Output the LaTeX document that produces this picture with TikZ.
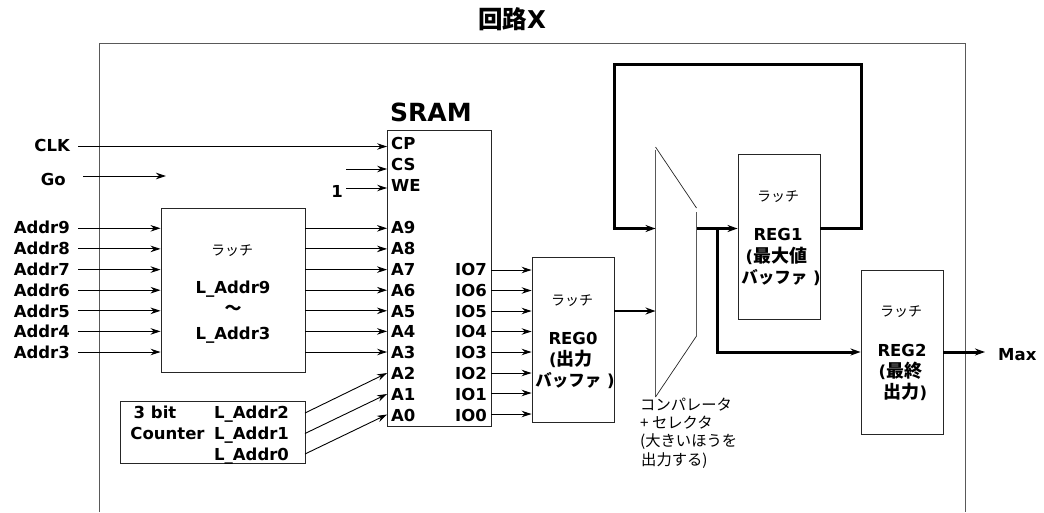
\documentclass[tikz,border=0pt]{standalone}
\usepackage{fontspec}
\setmainfont{DejaVu Sans}
\newfontfamily\jp{Noto Sans CJK JP}
\usetikzlibrary{arrows.meta,calc}
\definecolor{edgegray}{gray}{0.35}
\tikzset{
  x=1pt,y=-1pt,
  box/.style={draw=black!85,line width=0.9pt,inner sep=0pt,rectangle},
  wire/.style={line width=0.9pt,black,-{Stealth[length=10pt,width=6.5pt]}},
  thickwire/.style={line width=2.2pt,black,line join=miter,-{Stealth[length=10pt,width=7pt]}},
  plainthick/.style={line width=2.2pt,black},
  bendwire/.style={line width=3pt,black,line join=miter,-{Stealth[length=10pt,width=7pt]}},
  loopwire/.style={line width=3.4pt,black,line join=miter,line cap=butt},
  txt/.style={font=\fontsize{16.5}{17}\selectfont\bfseries,inner sep=0pt},
  sig/.style={txt,anchor=base east,inner xsep=8pt},
  pinl/.style={txt,anchor=base west},
  pinr/.style={txt,anchor=base east},
  mid/.style={txt,anchor=base},
  latchtxt/.style={font=\fontsize{14}{14}\selectfont\jp,inner sep=0pt},
  cmptxt/.style={font=\fontsize{15.3}{16}\selectfont\jp,inner sep=0pt,anchor=west},
  outer/.style={draw=edgegray,line width=1pt},
  cmpedge/.style={draw=edgegray,line width=1.2pt},
  cmpslant/.style={draw=black!85,line width=0.7pt}
}
\newcommand{\jb}[1]{{\fontsize{18}{18}\selectfont\jp\bfseries #1}}
\newcommand{\jk}[1]{{\jp\bfseries #1}}
\begin{document}
\begin{tikzpicture}
\useasboundingbox (0,0) rectangle (1044,512);
% outer frame
\coordinate (fbl) at (99,512);
\coordinate (ftl) at (99,43.5);
\coordinate (ftr) at (965,43.5);
\coordinate (fbr) at (965,512);
\draw[outer] (fbl) -- (ftl) -- (ftr) -- (fbr);
\node[font=\fontsize{24.5}{26}\selectfont\jp\bfseries,inner sep=0pt] (title) at (512,19) {回路{\fontspec{DejaVu Sans}\bfseries X}};
% boxes
\node[box,minimum width=103.5pt,minimum height=296pt] (sram) at (439.25,278) {};
\node[box,minimum width=144pt,minimum height=164pt] (latch) at (233,290) {};
\node[box,minimum width=185pt,minimum height=61.5pt] (counter) at (212.5,432.25) {};
\node[box,minimum width=82pt,minimum height=165pt] (reg0) at (573,339.5) {};
\node[box,minimum width=82pt,minimum height=164.5pt] (reg1) at (779,236.75) {};
\node[box,minimum width=82pt,minimum height=164pt] (reg2) at (902,352) {};
% SRAM texts
\node[txt,anchor=base west,font=\fontsize{25}{26}\selectfont\bfseries] (sramtitle) at (390,121) {SRAM};
\node[pinl] (cp) at (391,149) {CP};
\node[pinl] (cs) at (391,170) {CS};
\node[pinl] (we) at (391,191) {WE};
\foreach \n/\b in {9/233,8/254,7/275,6/296,5/317,4/337,3/358,2/379,1/400,0/421}
  \node[pinl] (a\n) at (391,\b) {A\n};
\foreach \n/\b in {7/275,6/296,5/317,4/337,3/358,2/379,1/400,0/421}
  \node[pinr] (io\n) at (487,\b) {IO\n};
% signal labels
\node[sig] (clk) at (78,151) {CLK};
\node[sig,inner xsep=17pt] (go) at (83,185) {Go};
\node[txt,anchor=base] (one) at (337,197.5) {1};
\coordinate (csfrom) at (346,169);
\coordinate (wefrom) at (346,188);
\coordinate (goto) at (166,176);
\foreach \n/\r/\b in {9/228.3/233,8/248.9/254,7/269.6/275,6/290.2/296,5/310.8/317,4/331.4/337,3/352/358}{
  \node[sig] (addr\n) at (78,\b) {Addr\n};
  \coordinate (row\n) at (0,\r);
  \draw[wire] (addr\n.east |- row\n) -- (latch.west |- row\n);
  \draw[wire] (latch.east |- row\n) -- (sram.west |- row\n);
}
\draw[wire] (clk.east |- 0,146.5) -- (sram.west |- 0,146.5);
\draw[wire] (go.east |- goto) -- (goto);
\draw[wire] (csfrom) -- (sram.west |- csfrom);
\draw[wire] (wefrom) -- (sram.west |- wefrom);
% latch texts
\node[latchtxt] (latchl) at (232,251) {ラッチ};
\node[mid] (la) at (233,293) {L\_Addr9};
\node[latchtxt,font=\fontsize{17}{17}\selectfont\jp\bfseries] (lb) at (233,310) {〜};
\node[mid] (lc) at (233,339) {L\_Addr3};
% counter
\node[txt,anchor=base] (c1) at (155,418) {3 bit};
\node[txt,anchor=base] (c2) at (167.5,439) {Counter};
\node[pinl] (l2) at (214,418) {L\_Addr2};
\node[pinl] (l1) at (214,439) {L\_Addr1};
\node[pinl] (l0) at (214,460) {L\_Addr0};
\coordinate (cnt2) at (305,413);
\coordinate (cnt1) at (305,433.5);
\coordinate (cnt0) at (305,454);
\draw[wire] (cnt2) -- (sram.west |- 0,373);
\draw[wire] (cnt1) -- (sram.west |- 0,394);
\draw[wire] (cnt0) -- (sram.west |- 0,414.5);
% IO arrows
\foreach \n/\r in {7/270,6/290.5,5/311,4/331.5,3/352,2/373,1/393,0/414}
  \draw[wire] (sram.east |- 0,\r) -- (reg0.west |- 0,\r);
% reg0 texts
\node[latchtxt] (r0l) at (572,301) {ラッチ};
\node[mid] (r0a) at (573,344) {REG0};
\node[mid] (r0b) at (571,365) {(\jb{出力}};
\node[mid] (r0c) at (575,386) {\jk{バッファ} )};
% comparator
\coordinate (ctl) at (655.5,147);
\coordinate (ctls) at (655.5,150);
\coordinate (ctr) at (696.5,208);
\coordinate (ctrs) at (696.5,212);
\coordinate (cbr) at (696.5,336);
\coordinate (cbl) at (655.5,397);
\draw[cmpedge] (ctls) -- (cbl);
\draw[cmpedge] (ctrs) -- (cbr);
\draw[cmpslant] (ctl) -- (ctr);
\draw[cmpslant] (cbr) -- (cbl);
\node[cmptxt] (ct1) at (640,405) {コンパレータ};
\node[cmptxt] (ct2) at (640,423) {+ セレクタ};
\node[cmptxt] (ct3) at (640,442) {(大きいほうを};
\node[cmptxt] (ct4) at (641,461) {出力する)};
% reg0 to comparator
\draw[thickwire] (reg0.east |- 0,311) -- (ctl |- 0,311);
% feedback
\coordinate (fbA) at (861.5,228.5);
\coordinate (fbB) at (861.5,64.5);
\coordinate (fbC) at (614.5,64.5);
\coordinate (fbD) at (614.5,228.5);
\draw[loopwire] (fbA) -- (fbB) -- (fbC) -- (fbD);
\draw[plainthick] (reg1.east |- fbA) -- ([xshift=1.7pt]fbA);
\draw[thickwire] ([xshift=-1.7pt]fbD) -- (ctl |- fbD);
% comparator output
\coordinate (branch) at (717,228.5);
\coordinate (bend) at (717,352);
\draw[thickwire] (ctr |- branch) -- (reg1.west |- branch);
\draw[bendwire] (branch) -- (bend) -- (reg2.west |- bend);
% reg1 texts
\node[latchtxt] (r1l) at (778,197) {ラッチ};
\node[mid] (r1a) at (778,240) {REG1};
\node[mid] (r1b) at (776.5,262) {(\jb{最大値}};
\node[mid] (r1c) at (781,283) {\jk{バッファ} )};
% reg2 texts
\node[latchtxt] (r2l) at (901,312) {ラッチ};
\node[mid] (r2a) at (902,356) {REG2};
\node[mid] (r2b) at (900.5,377) {(\jb{最終}};
\node[mid] (r2c) at (905.5,398) {\jb{出力})};
\node[txt,anchor=base west] (max) at (998,360.5) {Max};
\draw[bendwire] (reg2.east |- bend) -- (985,352);
\end{tikzpicture}
\end{document}
